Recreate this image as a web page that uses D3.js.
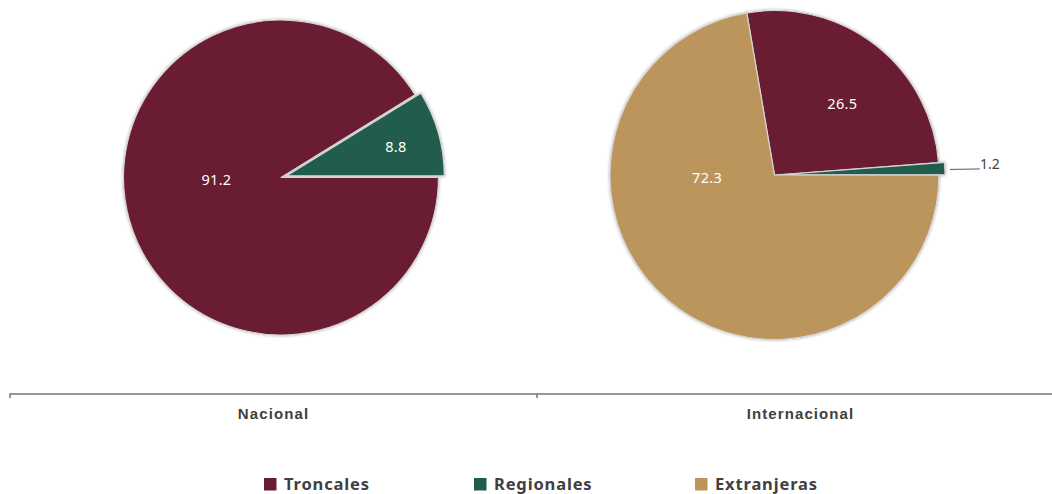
<!DOCTYPE html>
<html>
<head>
<meta charset="utf-8">
<script src="https://cdn.jsdelivr.net/npm/d3@7"></script>
<style>
  body { margin: 0; background: #fff; }
  svg { display: block; font-family: "Noto Sans", "Open Sans", sans-serif; }
</style>
</head>
<body>
<svg id="chart" width="1052" height="494"></svg>
<script>
const categories = ["Nacional", "Internacional"];
const seriesNames = ["Troncales", "Regionales", "Extranjeras"];
const nacional = [91.2, 8.8, 0];
const internacional = [26.5, 1.2, 72.3];
const seriesColors = ["#691c32", "#235b4e", "#bc955c"];

const width = 1052;
const height = 494;
const textColor = "#404040";

const svg = d3.select("#chart");

const defs = svg.append("defs");
defs.append("filter")
  .attr("id", "shadow")
  .attr("x", "-10%").attr("y", "-10%")
  .attr("width", "120%").attr("height", "120%")
  .append("feDropShadow")
  .attr("dx", 0).attr("dy", 0)
  .attr("stdDeviation", 1.6)
  .attr("flood-color", "#000")
  .attr("flood-opacity", 0.35);

// pies: centre, radius, start angle, which slice is pulled out
const pies = [
  { values: nacional, cx: 281, cy: 177.5, r: 157.5, start: Math.PI / 2, explode: 1 },
  { values: internacional, cx: 774.5, cy: 175, r: 164.5, start: -9.7 * Math.PI / 180, explode: 1 }
];

pies.forEach((p) => {
  const pie = d3.pie().sort(null).value((d) => d)
    .startAngle(p.start).endAngle(p.start + 2 * Math.PI);
  const arcs = pie(p.values).map((a, i) => ({ ...a, i }));
  const arc = d3.arc().innerRadius(0).outerRadius(p.r);

  const g = svg.append("g").attr("transform", `translate(${p.cx},${p.cy})`);

  const offset = (a) => {
    if (a.i !== p.explode) return [0, 0];
    const mid = (a.startAngle + a.endAngle) / 2;
    return [6 * Math.sin(mid), -6 * Math.cos(mid)];
  };

  g.append("g").attr("filter", "url(#shadow)")
    .selectAll("path")
    .data(arcs.filter((a) => a.value > 0))
    .join("path")
    .attr("transform", (a) => `translate(${offset(a)})`)
    .attr("d", arc)
    .attr("fill", (a) => seriesColors[a.i])
    .attr("stroke", "#d4d4d4")
    .attr("stroke-width", 1.2)
    .attr("stroke-linejoin", "round");

  arcs.filter((a) => a.value > 0).forEach((a) => {
    const share = a.value / 100;
    const mid = (a.startAngle + a.endAngle) / 2;
    const [ox, oy] = offset(a);
    if (share < 0.03) {
      // small slice: outside label with leader line
      const x0 = (p.r + 5) * Math.sin(mid) + ox;
      const y0 = -(p.r + 5) * Math.cos(mid) + oy + 1;
      g.append("line")
        .attr("x1", x0).attr("y1", y0)
        .attr("x2", x0 + 30).attr("y2", y0 - 0.5)
        .attr("stroke", "#595959").attr("stroke-width", 1);
      g.append("text")
        .attr("x", x0 + 30).attr("y", y0 - 4)
        .attr("dominant-baseline", "middle")
        .attr("font-size", 14).attr("fill", textColor)
        .text(d3.format(".1f")(a.value));
      return;
    }
    let lx, ly;
    if (share > 0.5) {
      lx = -0.41 * p.r; ly = 1;
    } else if (share > 0.2) {
      lx = 0.62 * p.r * Math.sin(mid) + ox + 5;
      ly = -0.62 * p.r * Math.cos(mid) + oy + 7;
    } else {
      lx = 0.72 * p.r * Math.sin(mid) + ox;
      ly = -0.72 * p.r * Math.cos(mid) + oy;
    }
    g.append("text")
      .attr("x", lx).attr("y", ly + 3)
      .attr("text-anchor", "middle")
      .attr("dominant-baseline", "middle")
      .attr("font-size", 14.5).attr("fill", "#fff")
      .attr("letter-spacing", 0.3)
      .text(d3.format(".1f")(a.value));
  });
});

// category axis
const x = d3.scaleBand().domain(categories).range([10, 1064]);
const axis = svg.append("g").attr("transform", "translate(0,394)")
  .call(d3.axisBottom(x).tickSize(0).tickPadding(14));
axis.select(".domain").attr("stroke", "#767676").attr("stroke-width", 1.5)
  .attr("d", "M10,4V0H1064");
axis.selectAll(".tick text")
  .attr("font-size", 15).attr("font-weight", 700)
  .attr("letter-spacing", 1.1)
  .attr("fill", textColor).attr("font-family", "inherit");
axis.append("line")
  .attr("x1", x("Internacional")).attr("x2", x("Internacional"))
  .attr("y1", 0).attr("y2", 4)
  .attr("stroke", "#767676").attr("stroke-width", 1.5);

// legend
const legendX = [264, 474, 695];
const legend = svg.append("g").attr("transform", "translate(0,484)");
const item = legend.selectAll("g").data(seriesNames).join("g")
  .attr("transform", (d, i) => `translate(${legendX[i]},0)`);
item.append("rect")
  .attr("x", 0).attr("y", -6).attr("width", 12.5).attr("height", 12.5)
  .attr("fill", (d, i) => seriesColors[i]);
item.append("text")
  .attr("x", 20).attr("y", 1.5)
  .attr("dominant-baseline", "middle")
  .attr("font-size", 16.5).attr("font-weight", 700)
  .attr("letter-spacing", 0.85)
  .attr("fill", textColor)
  .text((d) => d);
</script>
</body>
</html>
